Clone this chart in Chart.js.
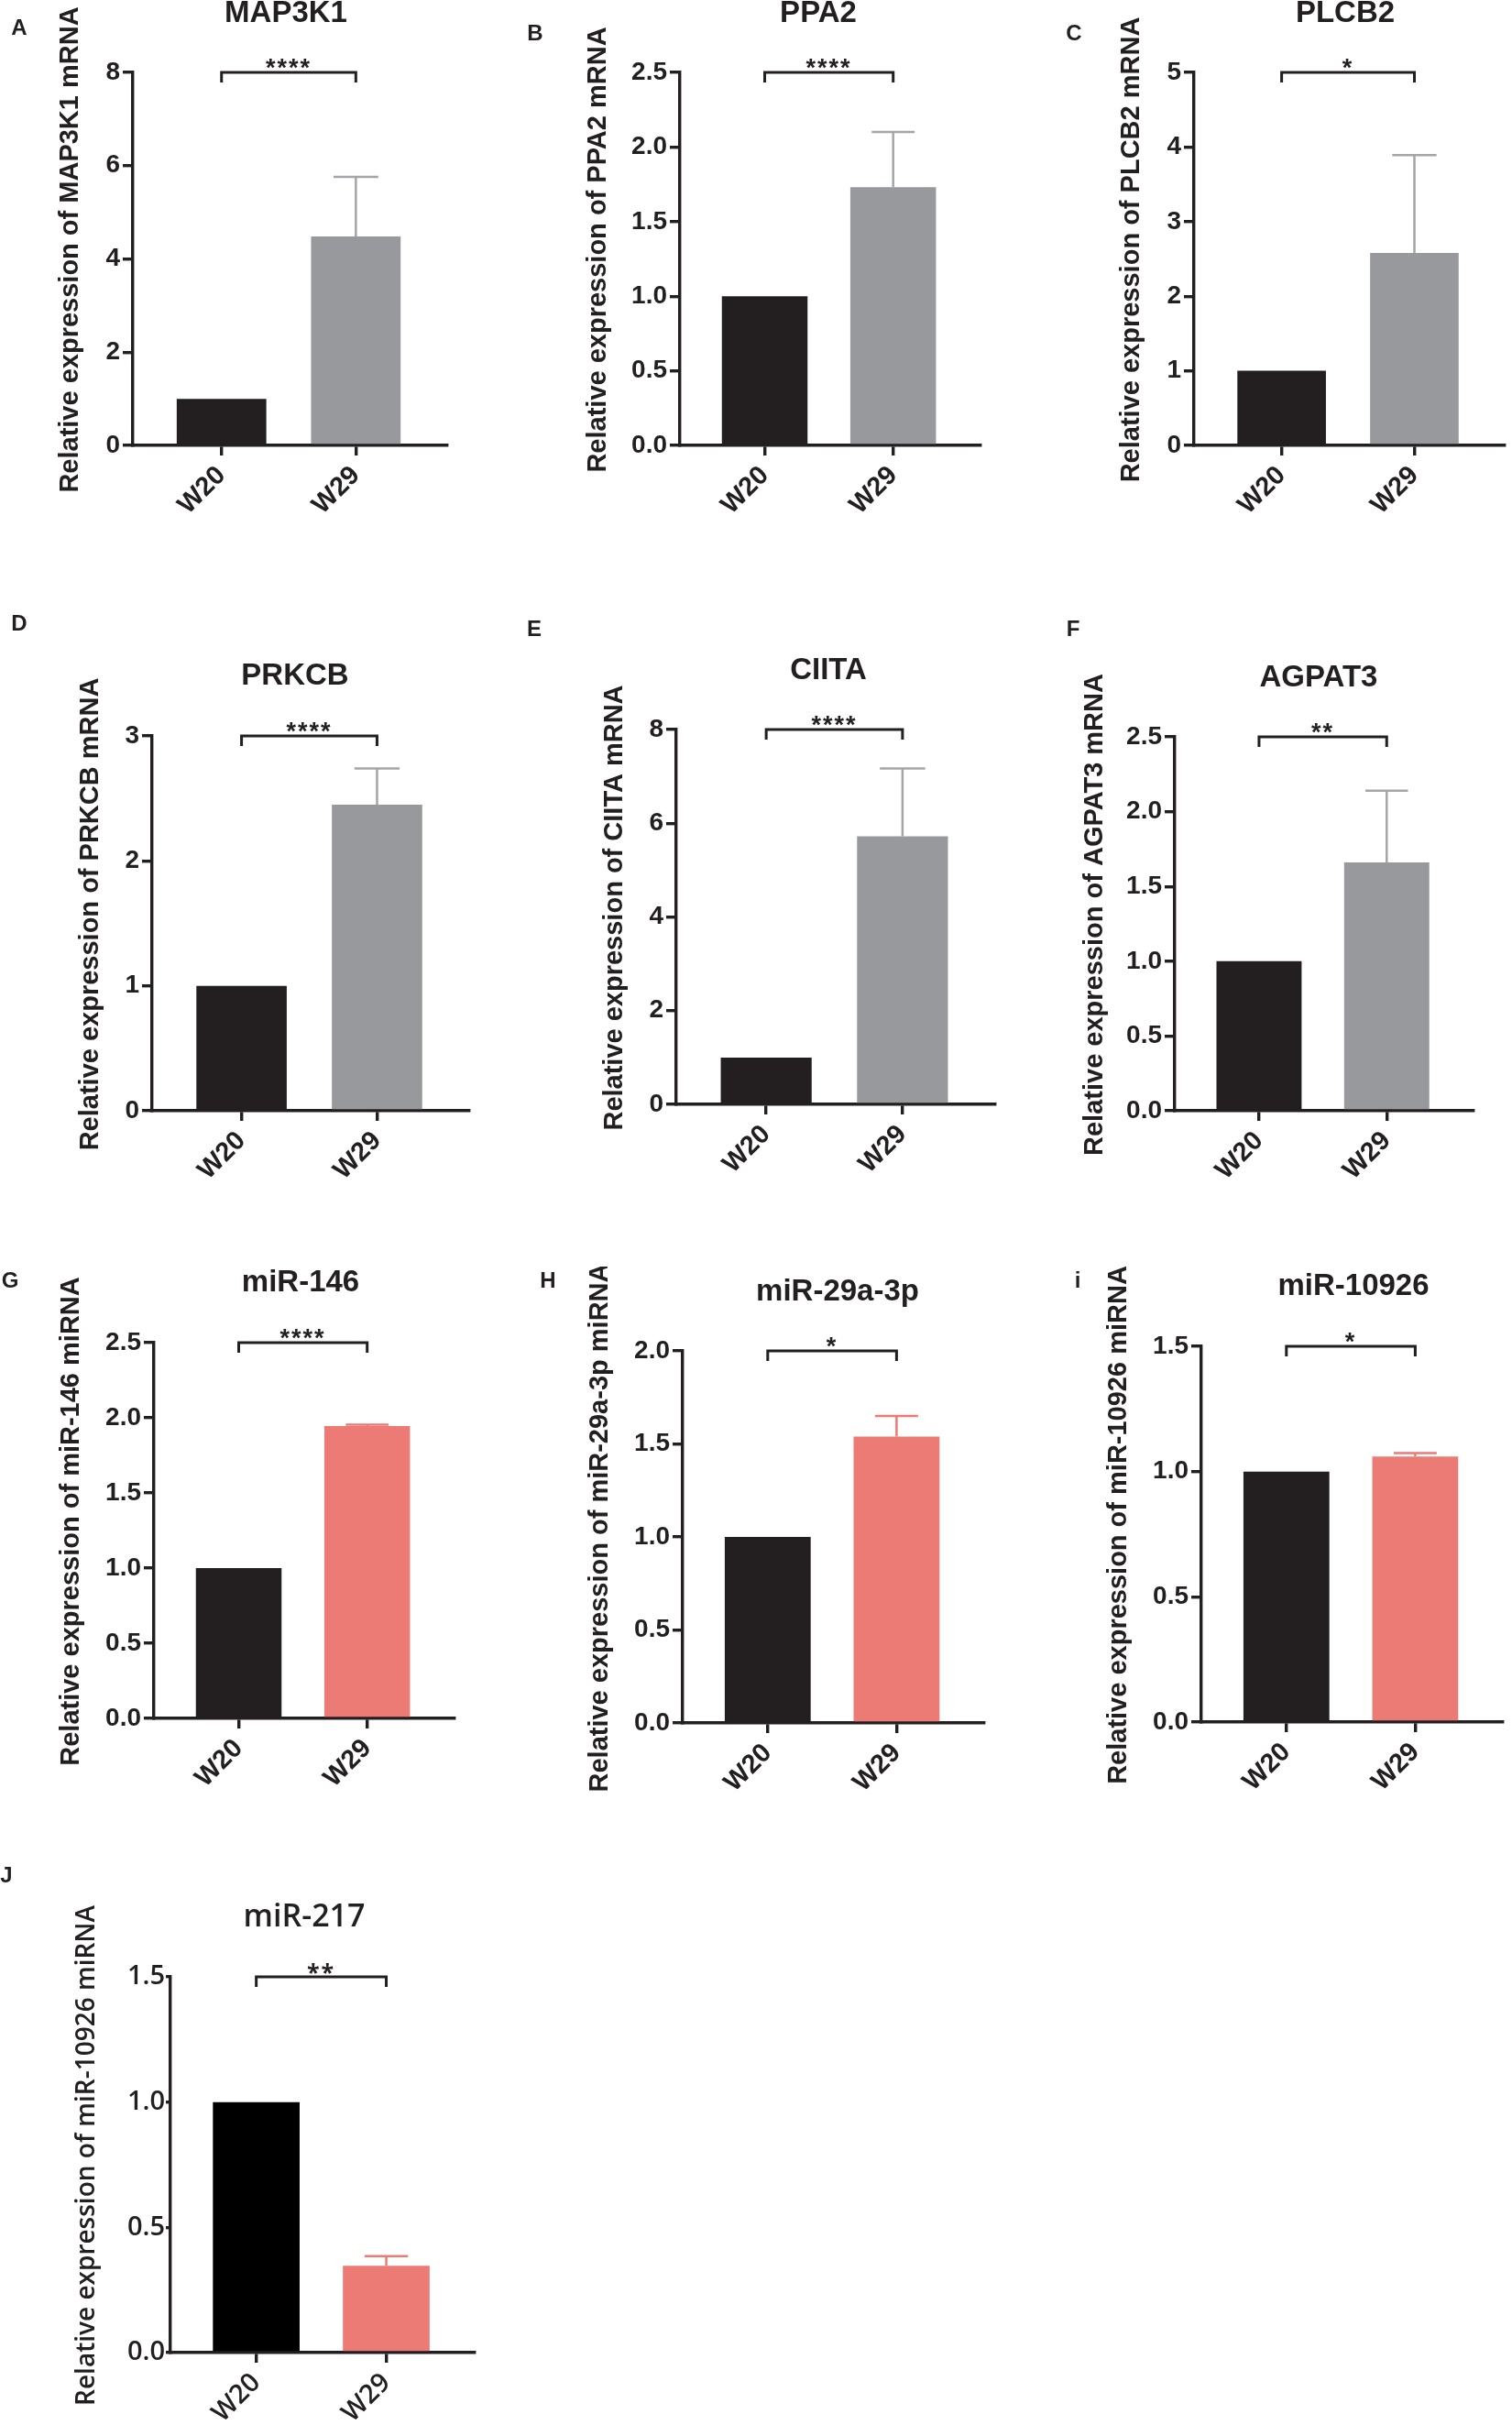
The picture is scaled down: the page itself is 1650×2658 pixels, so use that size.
<!DOCTYPE html>
<html>
<head>
<meta charset="utf-8">
<script src="https://cdn.jsdelivr.net/npm/chart.js@4.4.1/dist/chart.umd.min.js"></script>
<style>
  html, body { margin: 0; padding: 0; background: #fff; }
  #sheet { position: relative; width: 1650px; height: 2658px; overflow: hidden; background: #fff; }
  #sheet canvas { position: absolute; }
</style>
</head>
<body>
<div id="sheet"></div>
<script>
// ---- Data ----
const groups = ['W20', 'W29'];
const panelLetters = ['A', 'B', 'C', 'D', 'E', 'F', 'G', 'H', 'i', 'J'];
const panelTitles = ['MAP3K1', 'PPA2', 'PLCB2', 'PRKCB', 'CIITA', 'AGPAT3', 'miR-146', 'miR-29a-3p', 'miR-10926', 'miR-217'];
const yTitles = [
    'Relative expression of MAP3K1 mRNA',
    'Relative expression of PPA2 mRNA',
    'Relative expression of PLCB2 mRNA',
    'Relative expression of PRKCB mRNA',
    'Relative expression of CIITA mRNA',
    'Relative expression of AGPAT3 mRNA',
    'Relative expression of miR-146 miRNA',
    'Relative expression of miR-29a-3p miRNA',
    'Relative expression of miR-10926 miRNA',
    'Relative expression of miR-10926 miRNA'
];
const meanW20 = [1, 1, 1, 1, 1, 1, 1, 1, 1, 1];
const meanW29 = [4.48, 1.73, 2.58, 2.45, 5.72, 1.66, 1.945, 1.54, 1.06, 0.347];
const sdW20 = [0, 0, 0, 0, 0, 0, 0, 0, 0, 0];
const sdW29 = [1.28, 0.37, 1.31, 0.29, 1.45, 0.48, 0.01, 0.11, 0.014, 0.038];
const yMax = [8, 2.5, 5, 3, 8, 2.5, 2.5, 2.0, 1.5, 1.5];
const yTickLabels = [
    ['0', '2', '4', '6', '8'],
    ['0.0', '0.5', '1.0', '1.5', '2.0', '2.5'],
    ['0', '1', '2', '3', '4', '5'],
    ['0', '1', '2', '3'],
    ['0', '2', '4', '6', '8'],
    ['0.0', '0.5', '1.0', '1.5', '2.0', '2.5'],
    ['0.0', '0.5', '1.0', '1.5', '2.0', '2.5'],
    ['0.0', '0.5', '1.0', '1.5', '2.0'],
    ['0.0', '0.5', '1.0', '1.5'],
    ['0.0', '0.5', '1.0', '1.5']
];
const sigStars = ['****', '****', '*', '****', '****', '**', '****', '*', '*', '**'];

// ---- Layout: where each panel sits on the sheet (px) ----
const layout = [
    { axisX: 145,  top: 79,   zero: 486,  endX: 488,  yTitleX: 77,   titleX: 312,  titleY: 15,   letterX: 21,   letterY: 31 },
    { axisX: 742,  top: 79,   zero: 486,  endX: 1070, yTitleX: 653,  titleX: 893,  titleY: 15,   letterX: 584,  letterY: 37 },
    { axisX: 1303, top: 79,   zero: 486,  endX: 1642, yTitleX: 1235, titleX: 1468, titleY: 15,   letterX: 1172, letterY: 37 },
    { axisX: 166,  top: 803,  zero: 1212, endX: 512,  yTitleX: 99,   titleX: 322,  titleY: 738,  letterX: 21,   letterY: 681 },
    { axisX: 738,  top: 796,  zero: 1205, endX: 1086, yTitleX: 671,  titleX: 904,  titleY: 732,  letterX: 583,  letterY: 687 },
    { axisX: 1282, top: 804,  zero: 1212, endX: 1608, yTitleX: 1195, titleX: 1439, titleY: 740,  letterX: 1171, letterY: 687 },
    { axisX: 168,  top: 1465, zero: 1875, endX: 496,  yTitleX: 78,   titleX: 328,  titleY: 1400, letterX: 11,   letterY: 1398 },
    { axisX: 745,  top: 1474, zero: 1880, endX: 1074, yTitleX: 655,  titleX: 914,  titleY: 1410, letterX: 598,  letterY: 1398 },
    { axisX: 1311, top: 1469, zero: 1879, endX: 1640, yTitleX: 1221, titleX: 1477, titleY: 1404, letterX: 1176, letterY: 1398 },
    { axisX: 186,  top: 2157, zero: 2567, endX: 518,  yTitleX: 95,   titleX: 332,  titleY: 2092, letterX: 7,    letterY: 2047 }
];

const SHEET_W = 1650, SHEET_H = 2658;
const ink = '#231f20';
const grey = '#97999c';
const greyErr = '#a4a5a8';
const salmon = '#ec7b75';
const arial = '"Liberation Sans", Arial, Helvetica, sans-serif';
const openSans = '"Open Sans", "Noto Sans", sans-serif';
const axisWidth = 3.4;

// Error bars, significance bracket and panel texts
const annotate = {
    id: 'annotate',
    afterDatasetsDraw(chart, args, o) {
        const { ctx, scales: { x, y } } = chart;
        const values = chart.data.datasets[0].data;
        ctx.save();

        // upper error bars (lower half is hidden by the bar)
        chart.getDatasetMeta(0).data.forEach((bar, k) => {
            const sd = o.sd[k];
            if (!sd) return;
            const v = values[k].y;
            const yBar = y.getPixelForValue(v);
            const yErr = y.getPixelForValue(v + sd);
            const cap = bar.width / 4;
            ctx.strokeStyle = o.errColors[k];
            ctx.lineWidth = 2.5;
            ctx.beginPath();
            ctx.moveTo(bar.x, yBar);
            ctx.lineTo(bar.x, yErr);
            ctx.moveTo(bar.x - cap, yErr);
            ctx.lineTo(bar.x + cap, yErr);
            ctx.stroke();
        });

        // significance bracket at the top of the axis
        const xa = x.getPixelForValue(0);
        const xb = x.getPixelForValue(1);
        const yb = y.getPixelForValue(y.max);
        ctx.strokeStyle = ink;
        ctx.lineWidth = 3;
        ctx.beginPath();
        ctx.moveTo(xa, yb + 11);
        ctx.lineTo(xa, yb);
        ctx.lineTo(xb, yb);
        ctx.lineTo(xb, yb + 11);
        ctx.stroke();

        ctx.fillStyle = ink;
        ctx.font = o.starFont;
        ctx.letterSpacing = '2px';
        ctx.textAlign = 'center';
        ctx.textBaseline = 'alphabetic';
        ctx.fillText(o.stars, (xa + xb) / 2, yb + 4);
        ctx.letterSpacing = '0px';
        ctx.restore();
    },
    afterDraw(chart, args, o) {
        const { ctx, chartArea } = chart;
        ctx.save();
        ctx.fillStyle = ink;
        ctx.textAlign = 'center';
        ctx.textBaseline = 'middle';

        ctx.font = o.letterFont;
        ctx.fillText(o.letter, o.letterPos[0], o.letterPos[1]);

        ctx.font = o.titleFont;
        ctx.fillText(o.title, o.titlePos[0], o.titlePos[1]);

        // rotated y axis title
        ctx.font = o.yTitleFont;
        ctx.translate(o.yTitleX, (chartArea.top + chartArea.bottom) / 2 - 10);
        ctx.rotate(-Math.PI / 2);
        ctx.fillText(o.yTitle, 0, 0);
        ctx.restore();
    }
};

const sheet = document.getElementById('sheet');

layout.forEach((g, i) => {
    const isJ = i === 9;
    const family = isJ ? openSans : arial;
    const w29Color = i < 6 ? grey : salmon;
    const errColor = i < 6 ? greyErr : salmon;

    const x0 = Math.max(0, Math.min(g.letterX - 16, g.yTitleX - 30));
    const y0 = Math.max(0, Math.min(g.letterY - 16, g.titleY - 26));
    const x1 = Math.min(SHEET_W, g.endX + 14);
    const y1 = Math.min(SHEET_H, g.zero + 100);

    const canvas = document.createElement('canvas');
    canvas.width = x1 - x0;
    canvas.height = y1 - y0;
    canvas.style.left = x0 + 'px';
    canvas.style.top = y0 + 'px';
    canvas.style.width = (x1 - x0) + 'px';
    canvas.style.height = (y1 - y0) + 'px';
    sheet.appendChild(canvas);

    const means = [meanW20[i], meanW29[i]];
    const tickLabels = yTickLabels[i];

    new Chart(canvas, {
        type: 'bar',
        data: {
            datasets: [{
                data: groups.map((name, k) => ({ x: k, y: means[k] })),
                backgroundColor: [isJ ? '#000000' : ink, w29Color],
                borderWidth: 0,
                barPercentage: 0.667,
                categoryPercentage: 1
            }]
        },
        options: {
            responsive: false,
            animation: false,
            devicePixelRatio: 1,
            layout: { padding: { left: 0, top: g.top - y0, right: x1 - g.endX, bottom: 0 } },
            plugins: {
                legend: { display: false },
                tooltip: { enabled: false },
                annotate: {
                    sd: [sdW20[i], sdW29[i]],
                    errColors: [ink, errColor],
                    stars: sigStars[i],
                    starFont: isJ ? 'bold 25px ' + openSans : 'bold 27px ' + arial,
                    letter: panelLetters[i],
                    letterFont: 'bold 24px ' + arial,
                    letterPos: [g.letterX - x0, g.letterY - y0],
                    title: panelTitles[i],
                    titleFont: isJ ? '600 34px ' + openSans : 'bold 33px ' + arial,
                    titlePos: [g.titleX - x0, g.titleY - y0],
                    yTitle: yTitles[i],
                    yTitleFont: isJ ? '600 28px ' + openSans : 'bold 29px ' + arial,
                    yTitleX: g.yTitleX - x0
                }
            },
            scales: {
                x: {
                    type: 'linear',
                    min: -0.66,
                    max: 1.68,
                    offset: false,
                    afterBuildTicks: s => { s.ticks = groups.map((name, k) => ({ value: k })); },
                    afterFit: s => { s.height = y1 - g.zero; },
                    border: { color: ink, width: axisWidth },
                    grid: { drawOnChartArea: false, offset: false, color: ink, lineWidth: axisWidth, tickLength: 11, tickWidth: axisWidth, tickColor: ink },
                    ticks: {
                        autoSkip: false,
                        minRotation: 45,
                        maxRotation: 45,
                        padding: 5,
                        color: ink,
                        font: { family: family, size: 29, weight: isJ ? '600' : 'bold' },
                        callback: v => groups[v]
                    }
                },
                y: {
                    min: 0,
                    max: yMax[i],
                    afterFit: s => { s.width = g.axisX - x0; },
                    border: { color: ink, width: axisWidth },
                    grid: { drawOnChartArea: false, color: ink, lineWidth: axisWidth, tickLength: isJ ? 5 : 11, tickWidth: axisWidth, tickColor: ink },
                    ticks: {
                        stepSize: yMax[i] / (tickLabels.length - 1),
                        padding: isJ ? 1 : 3,
                        color: ink,
                        font: { family: family, size: isJ ? 29 : 28, weight: isJ ? '600' : 'bold' },
                        callback: (v, k) => tickLabels[k]
                    }
                }
            }
        },
        plugins: [annotate]
    });
});
</script>
</body>
</html>
